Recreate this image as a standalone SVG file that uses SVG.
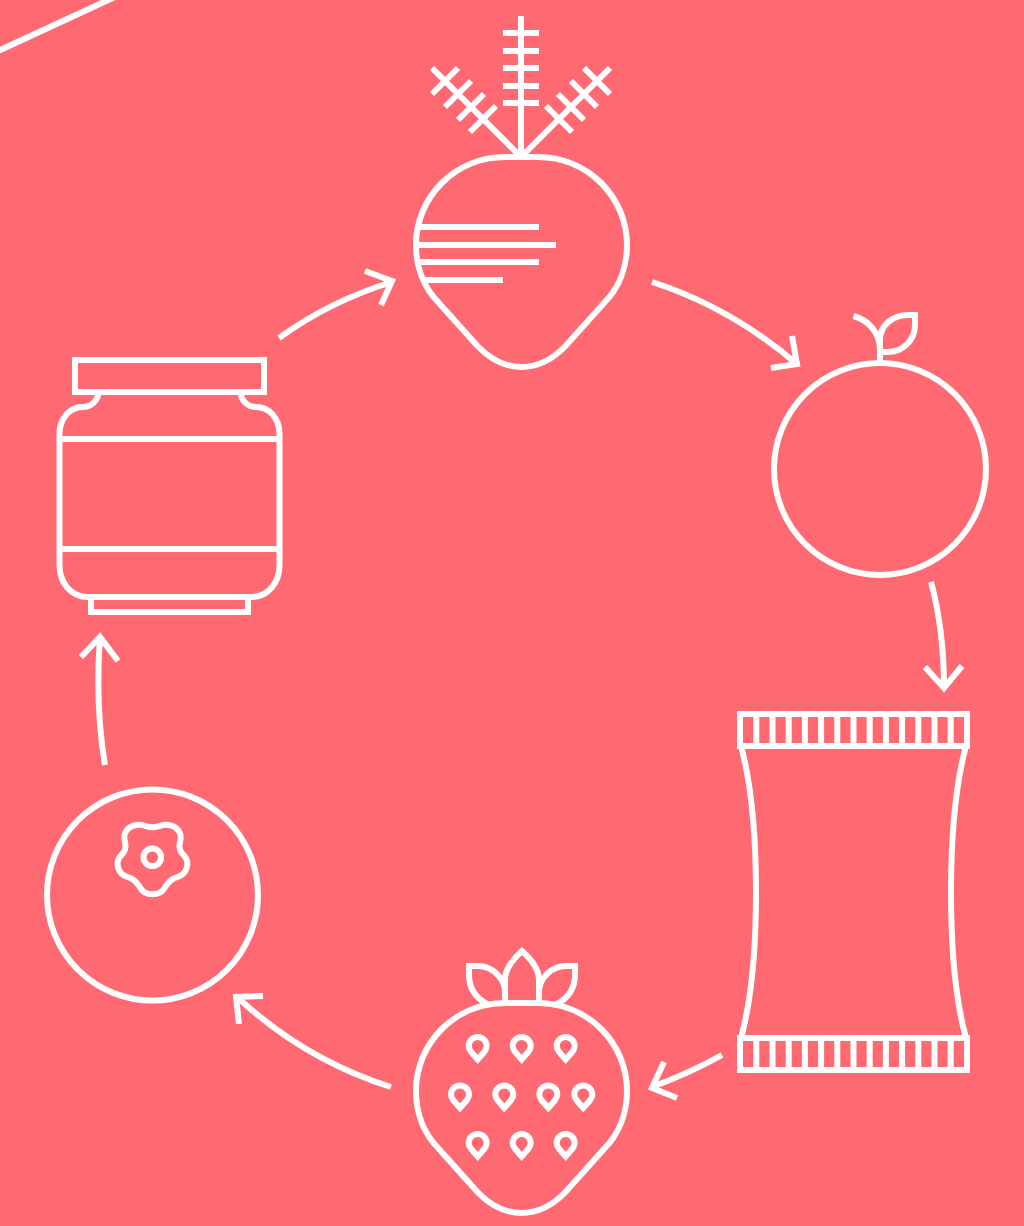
<svg xmlns="http://www.w3.org/2000/svg" xmlns:xlink="http://www.w3.org/1999/xlink" width="1024" height="1226" viewBox="0 0 1024 1226">
<style>
.l{fill:none;stroke:#fff;stroke-width:6;stroke-miterlimit:10}
</style>
<defs>
<path id="body" class="l" d="M505.500 0H537.500C588 0 627 40 627 88C627 110 619 131 604 146L565.500 189C553 202 538 210 521.500 210C505 210 490 202 477.500 189L439 146C424 131 416 110 416 88C416 40 455 0 505.500 0Z"/>
<path id="seed" class="l" d="M0 13L-6.500 5.500C-8 3.500-9 2-9-.5A9 9 0 0 1 9-.5C9 2 8 3.500 6.500 5.500Z"/>
<path id="sprig" class="l" d="M521 157L432 68M432 94L458 68M445 107L471 81M458 120L484 94M470 132L496 106"/>
</defs>
<rect width="1024" height="1226" fill="#ff6971"/>
<path class="l" d="M-2 51L117-4"/>
<g id="connectors">
<path class="l" d="M279 338Q330 301 392 282M365 271L392 281L381 305"/>
<path class="l" d="M652 282Q730 307 797 364M792 336L797 364L771 368"/>
<path class="l" d="M931 582Q944 630 944 688M925 667L944 688L962 666"/>
<path class="l" d="M722 1055Q690 1073 652 1087M664 1062L652 1088L677 1098"/>
<path class="l" d="M391 1087Q305 1060 237 997M263 996L236 997L239 1024"/>
<path class="l" d="M105 765Q95 705 100 637M81 657L100 637L118 661"/>
</g>
<g id="beet">
<use href="#body" transform="translate(0 157)"/>
<path class="l" d="M521 16V157M503 33H539M503 51H539M503 68H539M503 86H539M503 103H539"/>
<use href="#sprig"/>
<use href="#sprig" transform="matrix(-1 0 0 1 1042 0)"/>
<path class="l" d="M419 227H539M416 245H556M419 262H539M425 280H503"/>
</g>
<g id="apple">
<circle class="l" cx="880" cy="469" r="106"/>
<path class="l" d="M853.500 316C868 320 880 332 880 350V362"/>
<path class="l" d="M880 352V340C880 325 893 315 908 315H915V325C915 340 903 352 888 352Z"/>
</g>
<g id="bag">
<path class="l" d="M740 714H967V746H740ZM740 1038H967V1070H740Z"/>
<path class="l" d="M741 746C761 820 761 965 741 1038M966 746C946 820 946 965 966 1038"/>
<path class="l" d="M756.300 714V746M772.500 714V746M788.700 714V746M804.900 714V746M821.100 714V746M837.300 714V746M853.500 714V746M869.700 714V746M885.900 714V746M902.100 714V746M918.300 714V746M934.500 714V746M950.700 714V746"/>
<path class="l" d="M756.300 1038V1070M772.500 1038V1070M788.700 1038V1070M804.900 1038V1070M821.100 1038V1070M837.300 1038V1070M853.500 1038V1070M869.700 1038V1070M885.900 1038V1070M902.100 1038V1070M918.300 1038V1070M934.500 1038V1070M950.700 1038V1070"/>
</g>
<g id="strawberry">
<use href="#body" transform="translate(0 1003)"/>
<path class="l" d="M505 1003V980C505 968 513 959 522 951C531 959 539 968 539 980V1003"/>
<path class="l" d="M505 1003V992C505 978 492 966 478 966H469V975C469 988 476 998 487 1004"/>
<path class="l" d="M539 1003V992C539 978 552 966 566 966H575V975C575 988 568 998 557 1004"/>
<use href="#seed" x="477.700" y="1046.500"/><use href="#seed" x="521.700" y="1046.500"/><use href="#seed" x="565.700" y="1046.500"/>
<use href="#seed" x="460" y="1095"/><use href="#seed" x="504.300" y="1095"/><use href="#seed" x="548.300" y="1095"/><use href="#seed" x="583.300" y="1095"/>
<use href="#seed" x="477.700" y="1143.500"/><use href="#seed" x="521.700" y="1143.500"/><use href="#seed" x="565.700" y="1143.500"/>
</g>
<g id="blueberry">
<circle class="l" cx="152.500" cy="895" r="105.500"/>
<circle class="l" cx="152.300" cy="857.300" r="8.800"/>
<path class="l" style="stroke-width:18" transform="translate(90 800) scale(.3333)" d="M187 82C205 82 215 72 235 75C262 78 278 100 270 125C265 145 270 155 285 170C300 190 290 222 265 230C245 235 235 245 225 262C210 290 165 290 150 262C140 245 130 235 110 230C85 222 75 190 90 170C105 155 110 145 105 125C97 100 113 78 140 75C160 72 170 82 187 82Z"/>
</g>
<g id="jar">
<rect class="l" x="75" y="360" width="189" height="32"/>
<path class="l" d="M98.500 392C98 401 91 407 83 407C70 407 59.500 418 59.500 434V565C59.500 583 71 597 88 597H251C268 597 279.500 583 279.500 565V434C279.500 418 269 407 256 407C248 407 241 401 240.500 392"/>
<path class="l" d="M59.500 439H279.500M59.500 549H279.500"/>
<path class="l" d="M91 597V612H248V597"/>
</g>
</svg>
